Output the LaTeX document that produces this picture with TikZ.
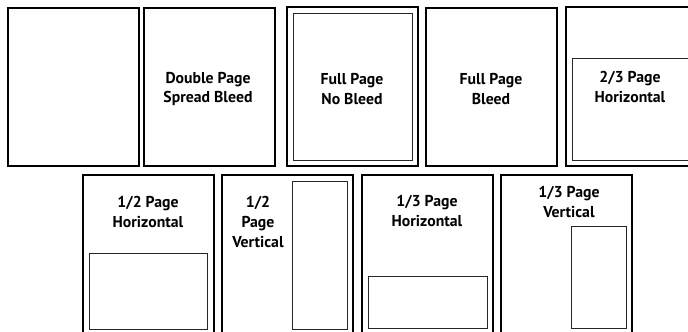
\documentclass[tikz,border=0pt]{standalone}
\usepackage{fontspec}
\setmainfont{PT Sans}
\usepackage{tikz}

\begin{document}
\begin{tikzpicture}[
    x=0.025cm, y=-0.025cm,
    page/.style={draw, line width=1.5pt},
    adbox/.style={draw=black!85, line width=0.7pt},
    label/.style={font=\bfseries\fontsize{11.2}{14}\selectfont, align=center, inner sep=0pt}
]
\clip (0,0) rectangle (688,331);
\fill[white] (0,0) rectangle (688,331);

% obere Reihe
\draw[page] (8,8) rectangle (139,166);
\draw[page] (144,8) rectangle (275,166);
\draw[page] (287,7) rectangle (418,166);
\draw[adbox] (293,13) rectangle (412,160);
\draw[page] (426,8) rectangle (557,166);
\draw[page] (566,7) rectangle (697,166);
\draw[adbox] (572,58) rectangle (697,160);

% untere Reihe
\draw[page] (83,175) rectangle (214,340);
\draw[adbox] (89,253) rectangle (207,329);
\draw[page] (222,175) rectangle (353,340);
\draw[adbox] (292,181) rectangle (347,329);
\draw[page] (362,175) rectangle (493,340);
\draw[adbox] (368,276) rectangle (487,328);
\draw[page] (501,175) rectangle (632,340);
\draw[adbox] (571,226) rectangle (626,328);

% Beschriftungen
\node[label] (dps) at (208,89) {Double Page\\Spread Bleed};
\node[label] (fnb) at (352,89) {Full Page\\No Bleed};
\node[label] (fb) at (491,89) {Full Page\\Bleed};
\node[label] (tth) at (630,87) {2/3 Page\\Horizontal};
\node[label] (hh) at (148,212) {1/2 Page\\Horizontal};
\node[label] (hv) at (258,222) {1/2\\Page\\Vertical};
\node[label] (th) at (427,211) {1/3 Page\\Horizontal};
\node[label] (tv) at (569,202) {1/3 Page\\Vertical};
\end{tikzpicture}
\end{document}
